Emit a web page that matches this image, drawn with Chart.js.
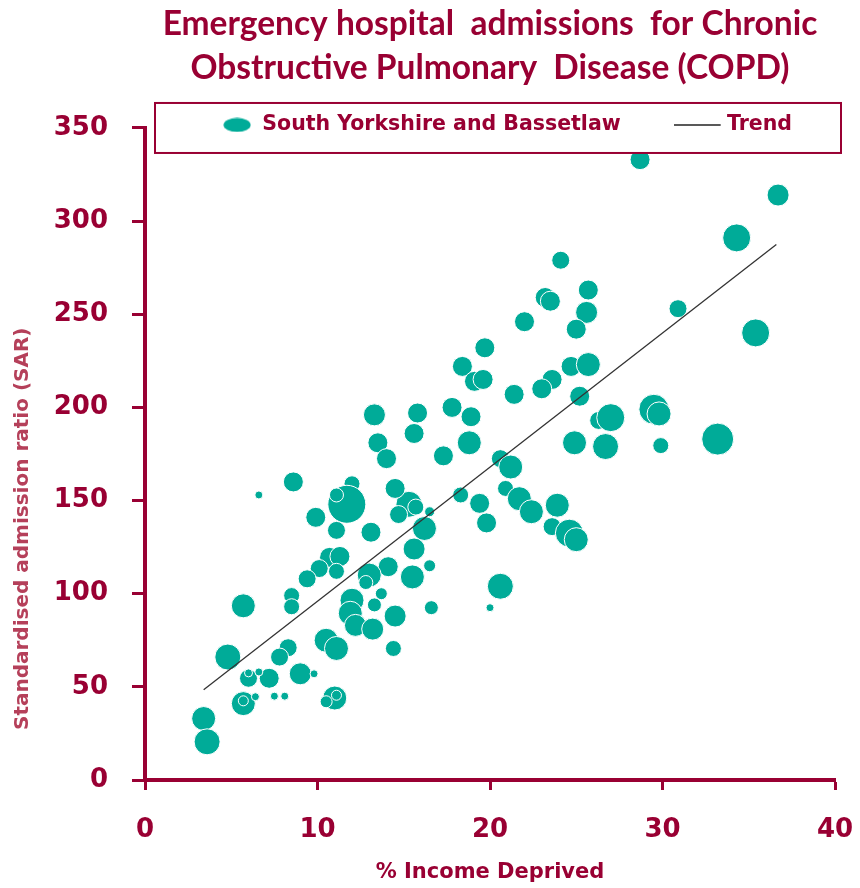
<!DOCTYPE html>
<html>
<head>
<meta charset="utf-8">
<title>COPD emergency admissions</title>
<script src="https://cdn.jsdelivr.net/npm/chart.js@4.4.1/dist/chart.umd.min.js"></script>
<style>
  html, body { margin: 0; padding: 0; background: #fff; }
  #wrap { width: 860px; height: 888px; }
</style>
</head>
<body>
<div id="wrap"><canvas id="chart" width="860" height="888"></canvas></div>
<script>
// Emergency COPD admissions vs income deprivation, South Yorkshire and Bassetlaw
// values (estimates)

const MAROON = '#990033';
const TEAL = '#00ab98';

// % income deprived (x)
const incomeDeprived = [
  19.7, 18.4, 19.1, 19.6, 17.8, 18.9, 13.3, 15.8, 15.6, 13.5, 18.8, 17.3,
  28.7, 36.7, 34.3, 24.1, 25.7, 23.2, 23.5, 25.6, 22.0, 25.0, 30.9, 35.4,
  24.7, 25.7, 23.6, 23.0, 21.4, 25.2, 29.5, 29.8, 26.3, 27.0, 33.2, 24.9,
  26.7, 29.9, 20.6, 21.2, 20.9, 21.7, 22.4, 23.9, 23.6, 24.6, 25.0, 20.6,
  20.0, 18.3, 19.4, 19.8, 15.3, 15.7, 16.5, 16.2, 15.6, 14.0, 8.6, 6.6,
  12.0, 11.7, 11.1, 9.9, 11.1, 13.1, 14.5, 14.7, 16.5, 15.5, 14.1, 13.0,
  12.8, 13.7, 13.3, 16.6, 14.5, 12.0, 11.9, 12.2, 13.2, 14.4, 10.5, 11.1,
  10.7, 11.3, 10.1, 11.1, 9.4, 8.5, 8.5, 5.7, 4.8, 8.3, 7.8, 9.0,
  9.8, 7.2, 6.0, 6.0, 6.6, 5.7, 5.7, 6.4, 7.5, 8.1, 11.0, 11.1,
  10.5, 3.4, 3.6
];

// standardised admission ratio (y)
const admissionRatio = [
  232, 222, 214, 215, 200, 195, 196, 197, 186, 181, 181, 174,
  333, 314, 291, 279, 263, 259, 257, 251, 246, 242, 253, 240,
  222, 223, 215, 210, 207, 206, 199, 196.5, 193, 194.5, 183, 181,
  179, 179.5, 172.5, 168, 156.5, 151, 144, 147.5, 136, 132.5, 129, 104,
  92.5, 153, 148.5, 138, 148, 146.5, 144, 135, 124, 172.5, 160, 153,
  159, 148, 153, 141, 134, 133, 156.5, 142.5, 115, 109, 114.5, 110,
  106, 100, 94, 92.5, 88, 96.5, 89.5, 83, 81, 70.6, 75, 70.6,
  119.5, 120, 113.5, 112, 108, 99, 93, 93.5, 66, 71, 66, 57,
  57, 54.6, 54.6, 57.5, 58, 41, 42.5, 44.7, 45, 45, 44, 45.5,
  42, 33, 20.5
];

// relative population weight (bubble area)
const bubbleWeight = [
  100, 100, 100, 100, 100, 100, 121, 100, 100, 100, 144, 100,
  100, 121, 196, 81, 100, 100, 100, 121, 100, 100, 81, 196,
  100, 144, 100, 100, 100, 100, 225, 144, 81, 196, 256, 144,
  169, 64, 81, 144, 64, 144, 144, 144, 81, 196, 144, 169,
  16, 64, 100, 100, 169, 64, 25, 144, 121, 100, 100, 16,
  64, 361, 49, 100, 81, 100, 100, 81, 36, 144, 100, 144,
  49, 36, 49, 49, 121, 144, 144, 121, 121, 64, 144, 144,
  100, 100, 81, 64, 81, 64, 64, 144, 169, 81, 81, 121,
  16, 100, 81, 16, 16, 144, 25, 16, 16, 16, 144, 25,
  36, 144, 169
];

// fitted trend, end points
const trendX = [3.4, 36.6];
const trendY = [48.5, 287.5];

const titleLines = ['Emergency hospital  admissions  for Chronic', 'Obstructive Pulmonary  Disease (COPD)'];
const seriesLabel = 'South Yorkshire and Bassetlaw';
const trendLabel = 'Trend';
const xTitle = '% Income Deprived';
const yTitle = 'Standardised admission ratio (SAR)';

const bubbles = incomeDeprived.map((x, i) => ({ x, y: admissionRatio[i], r: Math.sqrt(bubbleWeight[i]) }));
const trend = trendX.map((x, i) => ({ x, y: trendY[i] }));

function ellipseMark(){
  const c = document.createElement('canvas');
  c.width = 28; c.height = 15;
  const g = c.getContext('2d');
  g.fillStyle = TEAL;
  g.beginPath(); g.ellipse(14, 7.5, 13.5, 7, 0, 0, Math.PI * 2); g.fill();
  return c;
}
function lineMark(){
  // line sits in the left part so it ends a little before the label
  const c = document.createElement('canvas');
  c.width = 56; c.height = 4;
  const g = c.getContext('2d');
  g.strokeStyle = '#222'; g.lineWidth = 1.5;
  g.beginPath(); g.moveTo(0, 2); g.lineTo(47, 2); g.stroke();
  return c;
}
const marks = [ellipseMark(), lineMark()];

const LEG_PAD = 66;
const LEG_FONT = 20.5;
const LEG_SHIFT = 77;

// legend sits over the top of the plot in a white box
const legendBox = {
  id: 'legendBox',
  afterLayout(chart){
    const lg = chart.legend, ca = chart.chartArea;
    lg.top = ca.top - 3 - LEG_PAD - LEG_FONT / 2;
    lg.height = LEG_PAD * 2 + LEG_FONT;
    lg.bottom = lg.top + lg.height;
    lg.left += LEG_SHIFT; lg.right += LEG_SHIFT;
  },
  afterDatasetsDraw(chart){
    const ca = chart.chartArea, ctx = chart.ctx;
    const x0 = ca.left + 10, x1 = ca.right + 6, y0 = ca.top - 25, y1 = ca.top + 25;
    ctx.save();
    ctx.fillStyle = '#fff';
    ctx.fillRect(x0, y0, x1 - x0, y1 - y0);
    ctx.lineWidth = 2; ctx.strokeStyle = MAROON;
    ctx.strokeRect(x0, y0, x1 - x0, y1 - y0);
    ctx.restore();
    chart.legend.draw();
  }
};

const tickFont = { family: 'DejaVu Sans', weight: 'bold', size: 26 };

new Chart(document.getElementById('chart'), {
  type: 'bubble',
  data: {
    datasets: [
      { label: seriesLabel, data: bubbles, backgroundColor: TEAL, borderColor: '#ffffff', borderWidth: 1, order: 1 },
      { type: 'line', label: trendLabel, data: trend, borderColor: '#333', borderWidth: 1.3, pointRadius: 0, fill: false, order: 0 }
    ]
  },
  options: {
    responsive: false,
    animation: false,
    devicePixelRatio: 1,
    events: [],
    layout: { autoPadding: false, padding: 0 },
    plugins: {
      tooltip: { enabled: false },
      title: {
        display: true, text: titleLines, color: MAROON, fullSize: false,
        font: { family: 'Lato', weight: 'bold', size: 33.5, lineHeight: 1.313 },
        padding: { top: 2, bottom: 37 }
      },
      legend: {
        position: 'top', align: 'center', maxHeight: 1,
        labels: {
          usePointStyle: true, pointStyleWidth: 30, padding: LEG_PAD, color: MAROON,
          font: { family: 'DejaVu Sans', weight: 'bold', size: LEG_FONT },
          generateLabels: chart => chart.data.datasets.map((ds, i) => ({
            text: ds.label, fontColor: MAROON, pointStyle: marks[i],
            fillStyle: 'transparent', strokeStyle: 'transparent', lineWidth: 0,
            hidden: false, datasetIndex: i
          }))
        }
      }
    },
    scales: {
      x: {
        type: 'linear', min: 0, max: 40,
        afterFit: s => { s.height = 108; s.paddingRight = 25; },
        ticks: { stepSize: 10, color: MAROON, font: tickFont, padding: 25 },
        grid: { drawOnChartArea: false, drawTicks: true, tickLength: 10, tickWidth: 3, tickColor: MAROON },
        border: { display: true, color: MAROON, width: 4 },
        title: { display: true, text: xTitle, color: MAROON, font: { family: 'DejaVu Sans', weight: 'bold', size: 21 }, padding: { top: 0, bottom: 3 } }
      },
      y: {
        type: 'linear', min: 0, max: 350,
        afterFit: s => { s.width = 145; },
        ticks: { stepSize: 50, color: MAROON, font: tickFont, padding: 24 },
        grid: { drawOnChartArea: false, drawTicks: true, tickLength: 13, tickWidth: 3, tickColor: MAROON },
        border: { display: true, color: MAROON, width: 4 },
        title: {
          display: true, align: 'start', text: '\u2003\u2003\u2002' + yTitle, color: '#b5405a',
          font: { family: 'DejaVu Sans', weight: 'bold', size: 20 }, padding: { top: 11, bottom: 0 }
        }
      }
    }
  },
  plugins: [legendBox]
});
</script>
</body>
</html>
